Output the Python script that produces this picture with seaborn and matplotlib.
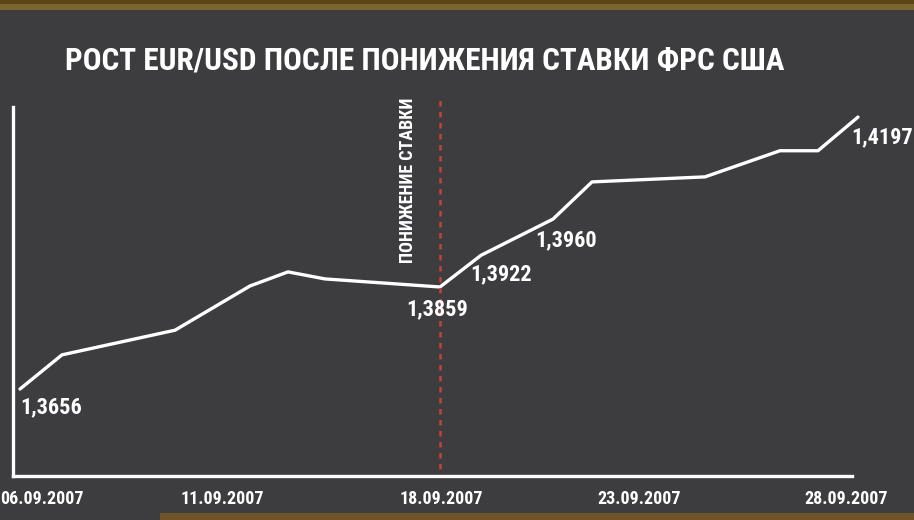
import matplotlib
matplotlib.use("Agg")
import matplotlib.pyplot as plt
from matplotlib import font_manager
import seaborn as sns
import pandas as pd
from matplotlib.patches import Rectangle

# данные, x - положение по оси в пикселях исходника
poz = [20, 62, 175, 250, 288, 325, 440, 481, 553, 592, 705, 780, 818, 858]
kurs = [1.3656, 1.3724, 1.3773, 1.3861, 1.3889, 1.3875, 1.3859, 1.3922, 1.3994,
        1.4068, 1.4078, 1.4130, 1.4130, 1.4197]
tiki = [42, 222, 441, 639, 846]
tiki_txt = ['06.09.2007', '11.09.2007', '18.09.2007', '23.09.2007', '28.09.2007']
podpisi = {0: '1,3656', 6: '1,3859', 7: '1,3922', 8: '1,3960', 13: '1,4197'}
poz_snizheniya = 440

fon = '#3d3c3e'
sns.set_theme(style='white')

# ищем узкий шрифт
imena = {f.name for f in font_manager.fontManager.ttflist}
shrift = 'DejaVu Sans'
for kand in ['Roboto Condensed', 'Open Sans Condensed', 'Liberation Sans Narrow',
             'DejaVu Sans Condensed', 'Noto Sans Condensed']:
    if kand in imena:
        shrift = kand
        break
plt.rcParams['font.family'] = [shrift, 'DejaVu Sans']
plt.rcParams['font.weight'] = 'bold'
plt.rcParams['font.stretch'] = 'condensed'

df = pd.DataFrame({'poz': poz, 'kurs': kurs})

fig = plt.figure(figsize=(9.14, 5.2), dpi=100, facecolor=fon)
ax = fig.add_axes([13/914, 1-476/520, (852-13)/914, (476-107)/520])
ax.set_facecolor(fon)

sns.lineplot(data=df, x='poz', y='kurs', ax=ax, color='white', linewidth=2.4,
             clip_on=False)
ax.axvline(poz_snizheniya, ymin=0.02, ymax=1.03, color='#c0433a', linewidth=1.8,
           linestyle=(0, (2.2, 2.2)), clip_on=False)

ax.set_xlim(13, 852)
ax.set_ylim(1.3483, 1.4217)
ax.set_xticks(tiki)
ax.set_xticklabels(tiki_txt, color='white', fontsize=13)
ax.set_yticks([])
ax.set_xlabel('')
ax.set_ylabel('')
ax.tick_params(axis='x', length=0, pad=10)
for s in ['top', 'right']:
    ax.spines[s].set_visible(False)
for s in ['left', 'bottom']:
    ax.spines[s].set_color('white')
    ax.spines[s].set_linewidth(2.4)

# подписи значений
smesh = {0: (0, -5, 'left', 'top'), 6: (-24, -8, 'left', 'top'),
         7: (-8, -6, 'left', 'top'), 8: (-13, -7, 'left', 'top'),
         13: (-5, -7, 'left', 'top')}
for i, t in podpisi.items():
    dx, dy, ha, va = smesh[i]
    ax.annotate(t, (poz[i], kurs[i]), xytext=(dx, dy), textcoords='offset points',
                color='white', fontsize=16, ha=ha, va=va, annotation_clip=False)

ax.text(408, 1.4235, 'ПОНИЖЕНИЕ СТАВКИ', rotation=90, color='white',
        fontsize=13, ha='center', va='top', clip_on=False)

fig.text(65/914, 1-61/520, 'РОСТ EUR/USD ПОСЛЕ ПОНИЖЕНИЯ СТАВКИ ФРС США',
         color='white', fontsize=22.5, ha='left', va='center')

# рамка
fig.patches.append(Rectangle((0, 1-10/520), 1, 10/520, transform=fig.transFigure,
                             facecolor='#7a6430', edgecolor='none'))
fig.patches.append(Rectangle((0, 1-4/520), 1, 4/520, transform=fig.transFigure,
                             facecolor='#5a4516', edgecolor='none'))
fig.patches.append(Rectangle((160/914, 0), 1, 7/520, transform=fig.transFigure,
                             facecolor='#6e5428', edgecolor='none'))

fig.savefig('out.png', dpi=100, facecolor=fon)
